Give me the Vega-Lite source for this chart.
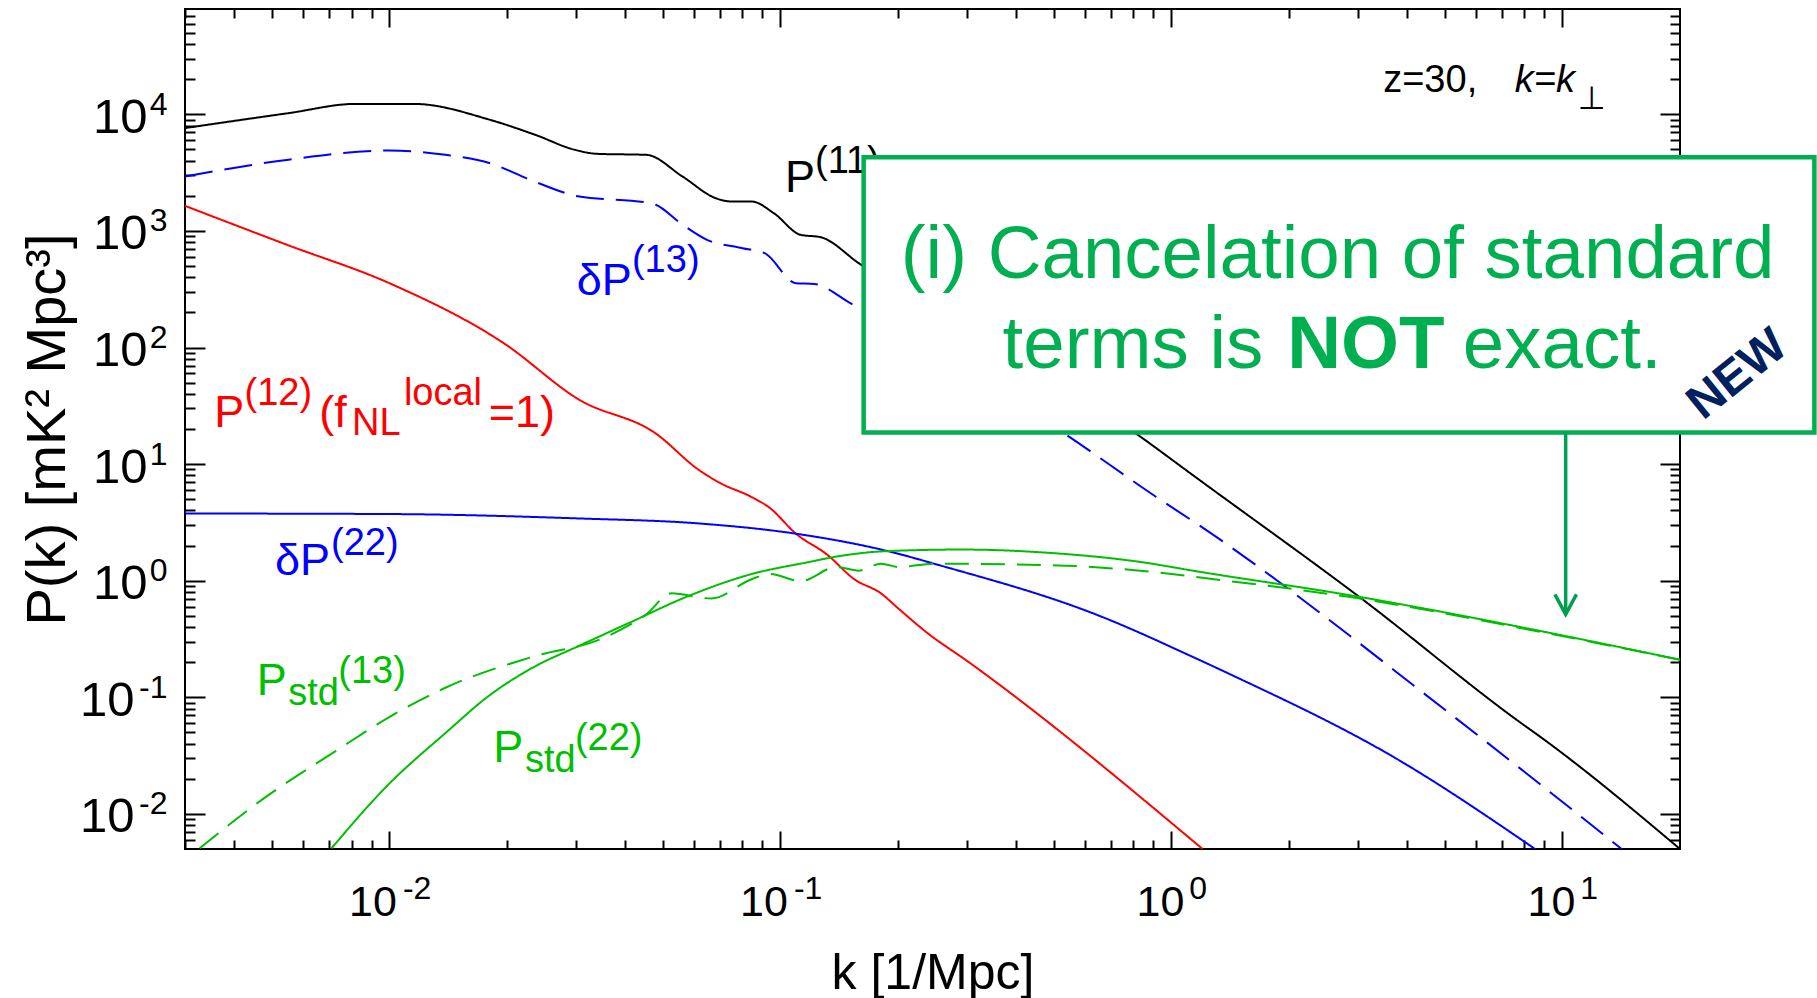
{
  "$schema": "https://vega.github.io/schema/vega-lite/v6.json",
  "width": 1495,
  "height": 840,
  "autosize": {"type": "none"},
  "padding": {"left": 185, "top": 9, "right": 137, "bottom": 149},
  "background": "white",
  "config": {
    "view": {"stroke": "black", "strokeWidth": 2},
    "font": "Liberation Sans",
    "axis": {"labelFont": "Liberation Sans", "titleFont": "Liberation Sans", "labelColor": "#000", "titleColor": "#000", "tickColor": "#000", "titleFontWeight": "normal", "grid": false, "domain": false, "labelFlush": false, "labelOverlap": false}
  },
  "datasets": {
    "curves": [
      {"s": "P11", "k": 0.003, "P": 7620}, {"s": "P11", "k": 0.00552, "P": 10230}, {"s": "P11", "k": 0.0082, "P": 12280}, {"s": "P11", "k": 0.01154, "P": 12280}, {"s": "P11", "k": 0.0181, "P": 8960}, {"s": "P11", "k": 0.0236, "P": 6670}, {"s": "P11", "k": 0.0298, "P": 4960}, {"s": "P11", "k": 0.034, "P": 4580}, {"s": "P11", "k": 0.0454, "P": 4490}, {"s": "P11", "k": 0.0562, "P": 2925}, {"s": "P11", "k": 0.0684, "P": 1906}, {"s": "P11", "k": 0.075, "P": 1786}, {"s": "P11", "k": 0.0844, "P": 1786}, {"s": "P11", "k": 0.0962, "P": 1419}, {"s": "P11", "k": 0.1127, "P": 925}, {"s": "P11", "k": 0.1268, "P": 883}, {"s": "P11", "k": 0.1585, "P": 530}, {"s": "P11", "k": 0.81, "P": 18.4}, {"s": "P11", "k": 1.176, "P": 7.37}, {"s": "P11", "k": 3.046, "P": 0.713}, {"s": "P11", "k": 7.82, "P": 0.0606}, {"s": "P11", "k": 8.77, "P": 0.046}, {"s": "P11", "k": 20, "P": 0.005},
      {"s": "dP13", "k": 0.003, "P": 2925}, {"s": "dP13", "k": 0.00552, "P": 4080}, {"s": "dP13", "k": 0.01, "P": 4900}, {"s": "dP13", "k": 0.0139, "P": 4490}, {"s": "dP13", "k": 0.0181, "P": 3800}, {"s": "dP13", "k": 0.0235, "P": 2650}, {"s": "dP13", "k": 0.0306, "P": 1970}, {"s": "dP13", "k": 0.0454, "P": 1753}, {"s": "dP13", "k": 0.048, "P": 1675}, {"s": "dP13", "k": 0.0555, "P": 1166}, {"s": "dP13", "k": 0.0649, "P": 838}, {"s": "dP13", "k": 0.08, "P": 711}, {"s": "dP13", "k": 0.0912, "P": 644}, {"s": "dP13", "k": 0.1096, "P": 356}, {"s": "dP13", "k": 0.122, "P": 351}, {"s": "dP13", "k": 0.151, "P": 240}, {"s": "dP13", "k": 0.546, "P": 17.3}, {"s": "dP13", "k": 0.911, "P": 5.27}, {"s": "dP13", "k": 1.176, "P": 3.0}, {"s": "dP13", "k": 5.04, "P": 0.077}, {"s": "dP13", "k": 14.26, "P": 0.00493},
      {"s": "P12", "k": 0.003, "P": 1640}, {"s": "P12", "k": 0.00547, "P": 760}, {"s": "P12", "k": 0.01, "P": 356}, {"s": "P12", "k": 0.0196, "P": 109}, {"s": "P12", "k": 0.0306, "P": 35.6}, {"s": "P12", "k": 0.0479, "P": 18.4}, {"s": "P12", "k": 0.0619, "P": 8.9}, {"s": "P12", "k": 0.0702, "P": 6.87}, {"s": "P12", "k": 0.0844, "P": 5.22}, {"s": "P12", "k": 0.0937, "P": 4.24}, {"s": "P12", "k": 0.1096, "P": 2.53}, {"s": "P12", "k": 0.1318, "P": 1.67}, {"s": "P12", "k": 0.1545, "P": 1.03}, {"s": "P12", "k": 0.1807, "P": 0.78}, {"s": "P12", "k": 0.201, "P": 0.572}, {"s": "P12", "k": 0.2355, "P": 0.365}, {"s": "P12", "k": 0.306, "P": 0.196}, {"s": "P12", "k": 1.202, "P": 0.005},
      {"s": "dP22", "k": 0.003, "P": 3.77}, {"s": "dP22", "k": 0.01, "P": 3.73}, {"s": "dP22", "k": 0.0304, "P": 3.42}, {"s": "dP22", "k": 0.0617, "P": 3.1}, {"s": "dP22", "k": 0.1096, "P": 2.53}, {"s": "dP22", "k": 0.19, "P": 1.78}, {"s": "dP22", "k": 0.2547, "P": 1.36}, {"s": "dP22", "k": 0.639, "P": 0.516}, {"s": "dP22", "k": 1.176, "P": 0.21}, {"s": "dP22", "k": 1.406, "P": 0.159}, {"s": "dP22", "k": 3.73, "P": 0.0303}, {"s": "dP22", "k": 8.57, "P": 0.00493},
      {"s": "Pstd13", "k": 0.00327, "P": 0.00507}, {"s": "Pstd13", "k": 0.00486, "P": 0.0142}, {"s": "Pstd13", "k": 0.0072, "P": 0.0337}, {"s": "Pstd13", "k": 0.01014, "P": 0.0697}, {"s": "Pstd13", "k": 0.0139, "P": 0.1207}, {"s": "Pstd13", "k": 0.0235, "P": 0.225}, {"s": "Pstd13", "k": 0.0349, "P": 0.318}, {"s": "Pstd13", "k": 0.0454, "P": 0.516}, {"s": "Pstd13", "k": 0.0526, "P": 0.779}, {"s": "Pstd13", "k": 0.0667, "P": 0.703}, {"s": "Pstd13", "k": 0.0844, "P": 1.03}, {"s": "Pstd13", "k": 0.0937, "P": 1.14}, {"s": "Pstd13", "k": 0.1127, "P": 0.993}, {"s": "Pstd13", "k": 0.139, "P": 1.31}, {"s": "Pstd13", "k": 0.1585, "P": 1.22}, {"s": "Pstd13", "k": 0.1807, "P": 1.4}, {"s": "Pstd13", "k": 0.201, "P": 1.31}, {"s": "Pstd13", "k": 0.248, "P": 1.4}, {"s": "Pstd13", "k": 0.4914, "P": 1.36}, {"s": "Pstd13", "k": 0.831, "P": 1.22}, {"s": "Pstd13", "k": 1.406, "P": 0.993}, {"s": "Pstd13", "k": 2.845, "P": 0.727}, {"s": "Pstd13", "k": 8.98, "P": 0.359}, {"s": "Pstd13", "k": 20, "P": 0.21},
      {"s": "Pstd22", "k": 0.00711, "P": 0.00507}, {"s": "Pstd22", "k": 0.00988, "P": 0.0175}, {"s": "Pstd22", "k": 0.0139, "P": 0.0493}, {"s": "Pstd22", "k": 0.0181, "P": 0.105}, {"s": "Pstd22", "k": 0.0235, "P": 0.183}, {"s": "Pstd22", "k": 0.0306, "P": 0.277}, {"s": "Pstd22", "k": 0.0419, "P": 0.449}, {"s": "Pstd22", "k": 0.0575, "P": 0.727}, {"s": "Pstd22", "k": 0.0844, "P": 1.14}, {"s": "Pstd22", "k": 0.1188, "P": 1.45}, {"s": "Pstd22", "k": 0.139, "P": 1.61}, {"s": "Pstd22", "k": 0.1857, "P": 1.79}, {"s": "Pstd22", "k": 0.2904, "P": 1.85}, {"s": "Pstd22", "k": 0.4914, "P": 1.73}, {"s": "Pstd22", "k": 0.831, "P": 1.45}, {"s": "Pstd22", "k": 1.176, "P": 1.195}, {"s": "Pstd22", "k": 2.845, "P": 0.753}, {"s": "Pstd22", "k": 8.98, "P": 0.365}, {"s": "Pstd22", "k": 20, "P": 0.21}
    ],
    "labels": [
      {"t": "P", "s": "P11", "role": "main", "k": 0.1027, "P": 2169},
      {"t": "δP", "s": "dP13", "role": "main", "k": 0.03013, "P": 282},
      {"t": "P", "s": "P12", "role": "main", "k": 0.003565, "P": 20.93},
      {"t": "(f", "s": "P12", "role": "main", "k": 0.006612, "P": 20.93},
      {"t": "=1)", "s": "P12", "role": "main", "k": 0.01795, "P": 20.93},
      {"t": "δP", "s": "dP22", "role": "main", "k": 0.005097, "P": 1.119},
      {"t": "P", "s": "Pstd13", "role": "main", "k": 0.004575, "P": 0.1047},
      {"t": "P", "s": "Pstd22", "role": "main", "k": 0.01843, "P": 0.02803},
      {"t": "(11)", "s": "P11", "role": "script", "k": 0.1226, "P": 3119},
      {"t": "(13)", "s": "dP13", "role": "script", "k": 0.04172, "P": 444.1},
      {"t": "(12)", "s": "P12", "role": "script", "k": 0.004261, "P": 32.13},
      {"t": "NL", "s": "P12", "role": "script", "k": 0.008019, "P": 17.77},
      {"t": "local", "s": "P12", "role": "script", "k": 0.01089, "P": 32.13},
      {"t": "(22)", "s": "dP22", "role": "script", "k": 0.007088, "P": 1.661},
      {"t": "std", "s": "Pstd13", "role": "script", "k": 0.005512, "P": 0.0859},
      {"t": "(13)", "s": "Pstd13", "role": "script", "k": 0.007398, "P": 0.1327},
      {"t": "std", "s": "Pstd22", "role": "script", "k": 0.02222, "P": 0.02301},
      {"t": "(22)", "s": "Pstd22", "role": "script", "k": 0.02981, "P": 0.03532}
    ],
    "note": [
      {"t": "z=30,", "part": "plain", "k": 3.482, "P": 15628},
      {"t": "k=k", "part": "italic", "k": 7.559, "P": 15628},
      {"t": "⊥", "part": "sub", "k": 10.96, "P": 11103}
    ],
    "box": [{"k1": 0.1633, "k2": 44.13, "P1": 4287, "P2": 18.67}],
    "boxtext": [
      {"t": "(i) Cancelation of standard", "part": "plain", "k": 0.2032, "P": 392.3},
      {"t": "terms is", "part": "plain", "k": 0.3702, "P": 66.3},
      {"t": "NOT", "part": "bold", "k": 1.979, "P": 66.3},
      {"t": "exact.", "part": "plain", "k": 5.567, "P": 66.3}
    ],
    "arrow": [{"k": 10.2, "P1": 18.67, "P2": 0.515}],
    "newtag": [{"t": "NEW", "k": 28.1, "P": 58.1}]
  },
  "resolve": {"scale": {"x": "shared", "y": "shared"}, "axis": {"x": "independent", "y": "independent"}},
  "layer": [
    {
      "data": {"name": "curves"},
      "mark": {"type": "line", "strokeWidth": 2, "clip": true, "interpolate": "monotone"},
      "encoding": {
        "x": {"field": "k", "type": "quantitative", "scale": {"type": "log", "domain": [0.003, 20], "nice": false},
          "axis": {"orient": "bottom", "values": [0.01, 0.1, 1, 10], "labelExpr": "'10'", "ticks": false, "labelFontSize": 43, "labelAlign": "right", "labelBaseline": "alphabetic", "labelPadding": 66,
            "labelOffset": {"condition": {"test": "datum.value < 1", "value": 7}, "value": 12.5},
            "title": "k [1/Mpc]", "titleFontSize": 50, "titleBaseline": "alphabetic", "titleAlign": "center", "titleX": 747.5, "titleY": 139}},
        "y": {"field": "P", "type": "quantitative", "scale": {"type": "log", "domain": [0.005, 80000], "nice": false},
          "axis": {"orient": "left", "values": [0.01, 0.1, 1, 10, 100, 1000, 10000], "labelExpr": "'10'", "ticks": false, "labelFontSize": 49, "labelAlign": "right", "labelBaseline": "alphabetic", "labelOffset": 18,
            "labelPadding": {"condition": {"test": "datum.value < 1", "value": 51}, "value": 38},
            "title": "P(k) [mK² Mpc³]", "titleFontSize": 56, "titleAngle": 270, "titleBaseline": "alphabetic", "titleAlign": "center", "titleX": -121, "titleY": 420}},
        "color": {"field": "s", "type": "nominal", "scale": {"domain": ["P11", "dP13", "P12", "dP22", "Pstd13", "Pstd22"], "range": ["#000000", "#0000ff", "#ff0000", "#0000ff", "#00bf00", "#00bf00"]}, "legend": null},
        "strokeDash": {"field": "s", "type": "nominal", "scale": {"domain": ["P11", "dP13", "P12", "dP22", "Pstd13", "Pstd22"], "range": [[1, 0], [28, 12], [1, 0], [1, 0], [24, 12], [1, 0]]}, "legend": null}
      }
    },
    {
      "data": {"name": "curves"},
      "mark": {"type": "point", "opacity": 0},
      "encoding": {
        "x": {"field": "k", "type": "quantitative", "scale": {"type": "log", "domain": [0.003, 20], "nice": false},
          "axis": {"orient": "bottom", "values": [0.01, 0.1, 1, 10], "labelExpr": "'' + round(log(datum.value)/LN10)", "ticks": false, "labelFontSize": 32, "labelAlign": "left", "labelBaseline": "alphabetic", "labelPadding": 49,
            "labelOffset": {"condition": {"test": "datum.value < 1", "value": 13}, "value": 17.5}, "title": null}},
        "y": {"field": "P", "type": "quantitative", "scale": {"type": "log", "domain": [0.005, 80000], "nice": false},
          "axis": {"orient": "left", "values": [0.01, 0.1, 1, 10, 100, 1000, 10000], "labelExpr": "'' + round(log(datum.value)/LN10)", "ticks": false, "labelFontSize": 32, "labelAlign": "right", "labelBaseline": "alphabetic", "labelPadding": 18, "labelOffset": 0, "title": null}}
      }
    },
    {
      "data": {"name": "curves"},
      "mark": {"type": "point", "opacity": 0},
      "encoding": {
        "x": {"field": "k", "type": "quantitative", "scale": {"type": "log", "domain": [0.003, 20], "nice": false},
          "axis": {"orient": "bottom", "values": [0.003, 0.004, 0.005, 0.006, 0.007, 0.008, 0.009, 0.01, 0.02, 0.03, 0.04, 0.05, 0.06, 0.07, 0.08, 0.09, 0.1, 0.2, 0.3, 0.4, 0.5, 0.6, 0.7, 0.8, 0.9, 1, 2, 3, 4, 5, 6, 7, 8, 9, 10], "labels": false, "ticks": true, "tickWidth": 2,
            "tickSize": {"condition": {"test": "abs(log(datum.value)/LN10 - round(log(datum.value)/LN10)) < 0.001", "value": -18}, "value": -9}, "title": null}},
        "y": {"field": "P", "type": "quantitative", "scale": {"type": "log", "domain": [0.005, 80000], "nice": false},
          "axis": {"orient": "left", "values": [0.006, 0.007, 0.008, 0.009, 0.01, 0.02, 0.03, 0.04, 0.05, 0.06, 0.07, 0.08, 0.09, 0.1, 0.2, 0.3, 0.4, 0.5, 0.6, 0.7, 0.8, 0.9, 1, 2, 3, 4, 5, 6, 7, 8, 9, 10, 20, 30, 40, 50, 60, 70, 80, 90, 100, 200, 300, 400, 500, 600, 700, 800, 900, 1000, 2000, 3000, 4000, 5000, 6000, 7000, 8000, 9000, 10000, 20000, 30000, 40000, 50000, 60000, 70000], "labels": false, "ticks": true, "tickWidth": 2,
            "tickSize": {"condition": {"test": "abs(log(datum.value)/LN10 - round(log(datum.value)/LN10)) < 0.001", "value": -20}, "value": -10}, "title": null}}
      }
    },
    {
      "data": {"name": "curves"},
      "mark": {"type": "point", "opacity": 0},
      "encoding": {
        "x": {"field": "k", "type": "quantitative", "scale": {"type": "log", "domain": [0.003, 20], "nice": false},
          "axis": {"orient": "top", "values": [0.003, 0.004, 0.005, 0.006, 0.007, 0.008, 0.009, 0.01, 0.02, 0.03, 0.04, 0.05, 0.06, 0.07, 0.08, 0.09, 0.1, 0.2, 0.3, 0.4, 0.5, 0.6, 0.7, 0.8, 0.9, 1, 2, 3, 4, 5, 6, 7, 8, 9, 10], "labels": false, "ticks": true, "tickWidth": 2,
            "tickSize": {"condition": {"test": "abs(log(datum.value)/LN10 - round(log(datum.value)/LN10)) < 0.001", "value": -18}, "value": -9}, "title": null}},
        "y": {"field": "P", "type": "quantitative", "scale": {"type": "log", "domain": [0.005, 80000], "nice": false},
          "axis": {"orient": "right", "values": [0.006, 0.007, 0.008, 0.009, 0.01, 0.02, 0.03, 0.04, 0.05, 0.06, 0.07, 0.08, 0.09, 0.1, 0.2, 0.3, 0.4, 0.5, 0.6, 0.7, 0.8, 0.9, 1, 2, 3, 4, 5, 6, 7, 8, 9, 10, 20, 30, 40, 50, 60, 70, 80, 90, 100, 200, 300, 400, 500, 600, 700, 800, 900, 1000, 2000, 3000, 4000, 5000, 6000, 7000, 8000, 9000, 10000, 20000, 30000, 40000, 50000, 60000, 70000], "labels": false, "ticks": true, "tickWidth": 2,
            "tickSize": {"condition": {"test": "abs(log(datum.value)/LN10 - round(log(datum.value)/LN10)) < 0.001", "value": -20}, "value": -10}, "title": null}}
      }
    },
    {
      "data": {"name": "labels"},
      "transform": [{"filter": "datum.role === 'main'"}],
      "mark": {"type": "text", "align": "left", "baseline": "alphabetic", "fontSize": 45, "font": "Liberation Sans, DejaVu Sans"},
      "encoding": {
        "x": {"field": "k", "type": "quantitative", "scale": {"type": "log", "domain": [0.003, 20], "nice": false}, "axis": null},
        "y": {"field": "P", "type": "quantitative", "scale": {"type": "log", "domain": [0.005, 80000], "nice": false}, "axis": null},
        "text": {"field": "t"},
        "color": {"field": "s", "type": "nominal", "scale": {"domain": ["P11", "dP13", "P12", "dP22", "Pstd13", "Pstd22"], "range": ["#000000", "#0000ff", "#ff0000", "#0000ff", "#00bf00", "#00bf00"]}, "legend": null}
      }
    },
    {
      "data": {"name": "labels"},
      "transform": [{"filter": "datum.role === 'script'"}],
      "mark": {"type": "text", "align": "left", "baseline": "alphabetic", "fontSize": 38, "font": "Liberation Sans, DejaVu Sans"},
      "encoding": {
        "x": {"field": "k", "type": "quantitative", "scale": {"type": "log", "domain": [0.003, 20], "nice": false}, "axis": null},
        "y": {"field": "P", "type": "quantitative", "scale": {"type": "log", "domain": [0.005, 80000], "nice": false}, "axis": null},
        "text": {"field": "t"},
        "color": {"field": "s", "type": "nominal", "scale": {"domain": ["P11", "dP13", "P12", "dP22", "Pstd13", "Pstd22"], "range": ["#000000", "#0000ff", "#ff0000", "#0000ff", "#00bf00", "#00bf00"]}, "legend": null}
      }
    },
    {
      "data": {"name": "note"},
      "transform": [{"filter": "datum.part === 'plain'"}],
      "mark": {"type": "text", "align": "left", "baseline": "alphabetic", "fontSize": 38, "color": "#000", "font": "Liberation Sans, DejaVu Sans"},
      "encoding": {
        "x": {"field": "k", "type": "quantitative", "scale": {"type": "log", "domain": [0.003, 20], "nice": false}, "axis": null},
        "y": {"field": "P", "type": "quantitative", "scale": {"type": "log", "domain": [0.005, 80000], "nice": false}, "axis": null},
        "text": {"field": "t"}
      }
    },
    {
      "data": {"name": "note"},
      "transform": [{"filter": "datum.part === 'italic'"}],
      "mark": {"type": "text", "align": "left", "baseline": "alphabetic", "fontSize": 38, "fontStyle": "italic", "color": "#000", "font": "Liberation Sans, DejaVu Sans"},
      "encoding": {
        "x": {"field": "k", "type": "quantitative", "scale": {"type": "log", "domain": [0.003, 20], "nice": false}, "axis": null},
        "y": {"field": "P", "type": "quantitative", "scale": {"type": "log", "domain": [0.005, 80000], "nice": false}, "axis": null},
        "text": {"field": "t"}
      }
    },
    {
      "data": {"name": "note"},
      "transform": [{"filter": "datum.part === 'sub'"}],
      "mark": {"type": "text", "align": "left", "baseline": "alphabetic", "fontSize": 32, "color": "#000", "font": "DejaVu Sans"},
      "encoding": {
        "x": {"field": "k", "type": "quantitative", "scale": {"type": "log", "domain": [0.003, 20], "nice": false}, "axis": null},
        "y": {"field": "P", "type": "quantitative", "scale": {"type": "log", "domain": [0.005, 80000], "nice": false}, "axis": null},
        "text": {"field": "t"}
      }
    },
    {
      "data": {"name": "box"},
      "mark": {"type": "rect", "fill": "white", "stroke": "#00b050", "strokeWidth": 4.5},
      "encoding": {
        "x": {"field": "k1", "type": "quantitative", "scale": {"type": "log", "domain": [0.003, 20], "nice": false}, "axis": null},
        "x2": {"field": "k2"},
        "y": {"field": "P1", "type": "quantitative", "scale": {"type": "log", "domain": [0.005, 80000], "nice": false}, "axis": null},
        "y2": {"field": "P2"}
      }
    },
    {
      "data": {"name": "boxtext"},
      "transform": [{"filter": "datum.part === 'plain'"}],
      "mark": {"type": "text", "align": "left", "baseline": "alphabetic", "fontSize": 74.5, "color": "#00b050", "font": "Liberation Sans"},
      "encoding": {
        "x": {"field": "k", "type": "quantitative", "scale": {"type": "log", "domain": [0.003, 20], "nice": false}, "axis": null},
        "y": {"field": "P", "type": "quantitative", "scale": {"type": "log", "domain": [0.005, 80000], "nice": false}, "axis": null},
        "text": {"field": "t"}
      }
    },
    {
      "data": {"name": "boxtext"},
      "transform": [{"filter": "datum.part === 'bold'"}],
      "mark": {"type": "text", "align": "left", "baseline": "alphabetic", "fontSize": 74.5, "fontWeight": "bold", "color": "#00b050", "font": "Liberation Sans"},
      "encoding": {
        "x": {"field": "k", "type": "quantitative", "scale": {"type": "log", "domain": [0.003, 20], "nice": false}, "axis": null},
        "y": {"field": "P", "type": "quantitative", "scale": {"type": "log", "domain": [0.005, 80000], "nice": false}, "axis": null},
        "text": {"field": "t"}
      }
    },
    {
      "data": {"name": "arrow"},
      "mark": {"type": "rule", "color": "#00a050", "strokeWidth": 3.5},
      "encoding": {
        "x": {"field": "k", "type": "quantitative", "scale": {"type": "log", "domain": [0.003, 20], "nice": false}, "axis": null},
        "y": {"field": "P1", "type": "quantitative", "scale": {"type": "log", "domain": [0.005, 80000], "nice": false}, "axis": null},
        "y2": {"field": "P2"}
      }
    },
    {
      "data": {"name": "arrow"},
      "mark": {"type": "point", "shape": "M-0.54,-1L0,0L0.54,-1", "size": 1600, "filled": false, "stroke": "#00a050", "strokeWidth": 3.5, "opacity": 1},
      "encoding": {
        "x": {"field": "k", "type": "quantitative", "scale": {"type": "log", "domain": [0.003, 20], "nice": false}, "axis": null},
        "y": {"field": "P2", "type": "quantitative", "scale": {"type": "log", "domain": [0.005, 80000], "nice": false}, "axis": null}
      }
    },
    {
      "data": {"name": "newtag"},
      "mark": {"type": "text", "align": "center", "baseline": "middle", "fontSize": 48, "fontWeight": "bold", "color": "#002060", "angle": 321, "font": "Liberation Sans"},
      "encoding": {
        "x": {"field": "k", "type": "quantitative", "scale": {"type": "log", "domain": [0.003, 20], "nice": false}, "axis": null},
        "y": {"field": "P", "type": "quantitative", "scale": {"type": "log", "domain": [0.005, 80000], "nice": false}, "axis": null},
        "text": {"field": "t"}
      }
    }
  ]
}
